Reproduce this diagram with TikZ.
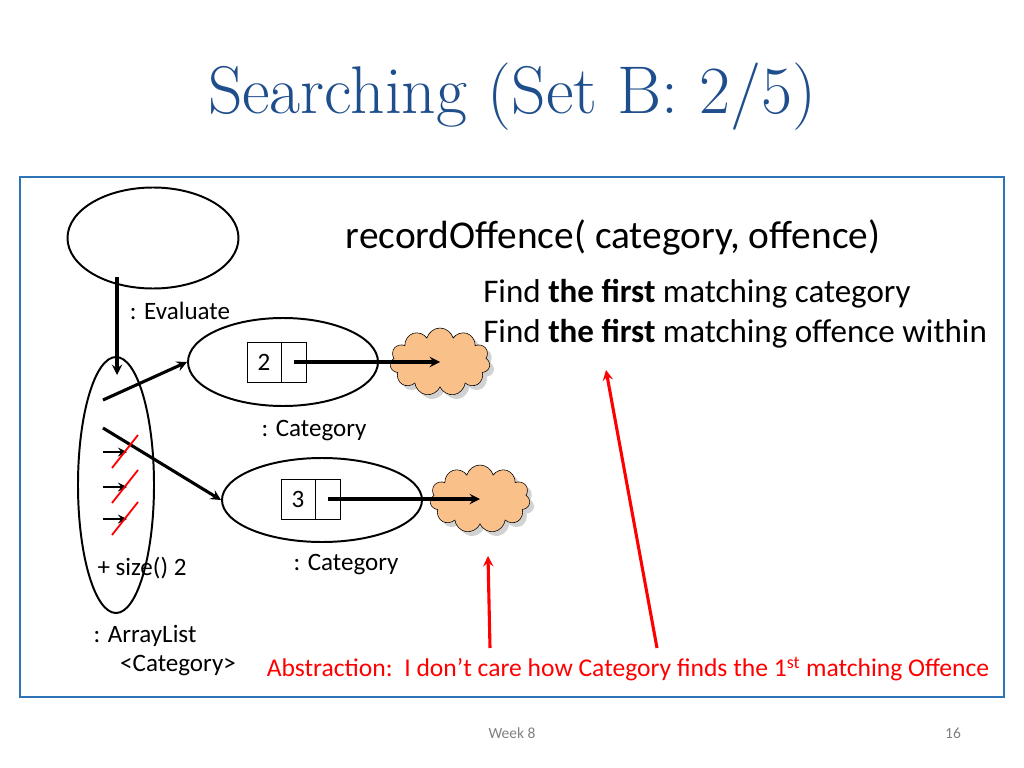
\documentclass[tikz,border=0pt]{standalone}
\usepackage{fontspec}
\setsansfont{Carlito}
\usetikzlibrary{shapes.symbols,shapes.geometric,shadows}
\definecolor{titleblue}{HTML}{1F4E8C}
\definecolor{framblue}{HTML}{2E75B6}
\definecolor{cloudfill}{HTML}{F9C08A}
\begin{document}
\begin{tikzpicture}[x=0.025cm, y=-0.025cm,
	lbl/.style={font=\sffamily\fontsize{17.8}{20}\selectfont},
	shape line/.style={line width=1.4pt},
	slot/.style={draw, minimum width=24.4*0.025cm, minimum height=40*0.025cm, inner sep=0},
	ref/.style={->, line width=2.2pt, >=stealth},
	tick/.style={red, line width=1.3pt},
	blob/.style={cloud, cloud puffs=11, draw, fill=cloudfill, drop shadow={fill=gray!70, shadow xshift=3pt, shadow yshift=-3pt}, minimum width=100*0.025cm, minimum height=68*0.025cm, aspect=1.5}]

	\useasboundingbox (0,0) rectangle (1024,768);
	\node at (512,97) {\color{titleblue}\fontsize{48}{54}\selectfont Searching (Set B: 2/5)};
	\draw [framblue, line width=1.2pt] (20,177) rectangle (1004,697);

	% objects
	\node (eval) [draw, shape line, ellipse, minimum width=171*0.025cm, minimum height=101*0.025cm] at (153,238) {};
	\node [lbl] at (180,311) {: Evaluate};
	\node (list) [draw, shape line, ellipse, minimum width=76*0.025cm, minimum height=256*0.025cm] at (116,485) {};
	\node (catA) [draw, shape line, ellipse, minimum width=190*0.025cm, minimum height=88*0.025cm] at (283,362) {};
	\node (catB) [draw, shape line, ellipse, minimum width=200*0.025cm, minimum height=84*0.025cm] at (322,500) {};

	\node (numA) [slot, minimum width=34*0.025cm, lbl] at (264,362) {2};
	\node (ptrA) [slot, anchor=west] at (numA.east) {};
	\node (numB) [slot, minimum width=34*0.025cm, lbl] at (298,499) {3};
	\node (ptrB) [slot, anchor=west] at (numB.east) {};

	\node (offA) [blob] at (440,362) {};
	\node (offB) [blob] at (480,499) {};

	\node [lbl] at (314,431) {: Category};
	\node [lbl] at (346,565) {: Category};
	\node [lbl] at (142,568) {+ size() 2};
	\node [lbl] at (145,636) {: ArrayList};
	\node [lbl] at (178,666) {<Category>};

	% references
	\coordinate (evalOut) at (117,277);
	\draw [ref] (evalOut) -- (117,375);
	\draw [ref] (103,400) -- (catA.west);
	\draw [ref] (103,428) -- (catB.west);
	\draw [ref] (ptrA.center) -- (offA.center);
	\draw [ref] (ptrB.center) -- (offB.center);
	\foreach \y in {452,487,519} {
		\draw [ref, line width=1.8pt] (103,\y) -- (127,\y);
		\draw [tick] (112,\y+16) -- (138,\y-17);
	}

	% text
	\node [font=\sffamily\fontsize{28}{32}\selectfont] at (613,237) {recordOffence( category, offence)};
	\node [font=\sffamily\fontsize{23.5}{28.4}\selectfont, align=left, anchor=north west, inner sep=0] at (483,279)
		{Find \textbf{the first} matching category\\Find \textbf{the first} matching offence within};

	\coordinate (noteA) at (490,648);
	\coordinate (noteB) at (657,648);
	\draw [red, line width=2.2pt, ->, >=stealth] (noteA) -- (488,556);
	\draw [red, line width=2.2pt, ->, >=stealth] (noteB) -- (606,370);
	\node [red, font=\sffamily\fontsize{18.2}{22}\selectfont] at (628,669)
		{Abstraction:\ \ I don’t care how Category finds the 1\textsuperscript{st} matching Offence};

	\node [gray, font=\sffamily\fontsize{11}{13}\selectfont] at (512,733) {Week 8};
	\node [gray, font=\sffamily\fontsize{11}{13}\selectfont] at (953,733) {16};

\end{tikzpicture}
\end{document}
